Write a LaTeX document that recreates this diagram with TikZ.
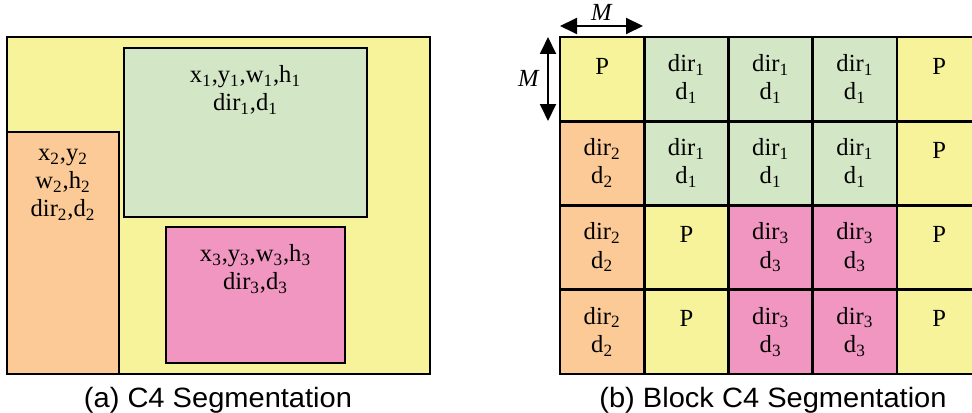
\documentclass[tikz,border=0pt]{standalone}
\usepackage{fontspec}
\usepackage{graphicx}
\usepackage{xcolor}
\usepackage{tikz}
\usetikzlibrary{arrows.meta}
\setmainfont{Liberation Serif}
\newfontfamily\capfont{Liberation Sans}

\definecolor{segyellow}{RGB}{247,243,155}
\definecolor{seggreen}{RGB}{211,230,198}
\definecolor{segorange}{RGB}{252,202,150}
\definecolor{segpink}{RGB}{241,150,192}
\colorlet{cellp}{segyellow}
\colorlet{cella}{seggreen}
\colorlet{cellb}{segorange}
\colorlet{cellc}{segpink}

\newcommand\celltextp{P}
\newcommand\celltexta{dir\textsubscript{1}\\d\textsubscript{1}}
\newcommand\celltextb{dir\textsubscript{2}\\d\textsubscript{2}}
\newcommand\celltextc{dir\textsubscript{3}\\d\textsubscript{3}}

\tikzset{
    region/.style={draw=black, line width=1.6pt},
    segtext/.style={anchor=north, inner sep=0pt, align=center,
        font=\fontsize{14}{16}\selectfont, execute at begin node=\strut},
    captext/.style={anchor=base, inner sep=0pt, font=\capfont\fontsize{15.9}{18}\selectfont},
    dimarrow/.style={line width=1.1pt,
        {Triangle[length=0.34cm,width=0.32cm]}-{Triangle[length=0.34cm,width=0.32cm]}}
}

\begin{document}
\begin{tikzpicture}[x=0.02cm, y=-0.02cm]
                    \path[use as bounding box] (0,0) rectangle (972,412);
                    \clip (0,0) rectangle (972,412);

                    % (a) free regions
                    \filldraw[region, fill=segyellow] (7,37) rectangle (430,374);
                    \filldraw[region, fill=seggreen] (124,48) rectangle (367,217);
                    \filldraw[region, fill=segorange] (7,132) rectangle (119,374);
                    \filldraw[region, fill=segpink] (166,227) rectangle (345,363);

                    \node[segtext] (reg1) at (245.5,65) {x\textsubscript{1},y\textsubscript{1},w\textsubscript{1},h\textsubscript{1}\\dir\textsubscript{1},d\textsubscript{1}};
                    \node[segtext] (reg2) at (63,149) {x\textsubscript{2},y\textsubscript{2}\\w\textsubscript{2},h\textsubscript{2}\\dir\textsubscript{2},d\textsubscript{2}};
                    \node[segtext] (reg3) at (255.5,244) {x\textsubscript{3},y\textsubscript{3},w\textsubscript{3},h\textsubscript{3}\\dir\textsubscript{3},d\textsubscript{3}};

                    % (b) blocks of size M
                    \foreach \r/\kinds in {0/{p,a,a,a,p},1/{b,a,a,a,p},2/{b,p,c,c,p},3/{b,p,c,c,p}}
                        \foreach \k [count=\c from 0] in \kinds {
                            \filldraw[region, fill=cell\k] (560+84.25*\c,37+84.25*\r) rectangle +(84.25,84.25);
                            \node[segtext] (cell-\r-\c) at (602.1+84.25*\c,54+84.25*\r) {\csname celltext\k\endcsname};
                        }

                    \coordinate (mh-a) at (560,26);
                    \coordinate (mh-b) at (643,26);
                    \coordinate (mv-a) at (548,37);
                    \coordinate (mv-b) at (548,121);
                    \draw[dimarrow] (mh-a) -- (mh-b);
                    \draw[dimarrow] (mv-a) -- (mv-b);
                    \node (mh) at (602,12) {\fontsize{14}{16}\selectfont\textit{M}};
                    \node (mv) at (529,78) {\fontsize{14}{16}\selectfont\textit{M}};

                    \node[captext] (capa) at (218,407) {\scalebox{1.04}[1]{(a) C4 Segmentation}};
                    \node[captext] (capb) at (773,407) {\scalebox{1.04}[1]{(b) Block C4 Segmentation}};
                \end{tikzpicture}
\end{document}
